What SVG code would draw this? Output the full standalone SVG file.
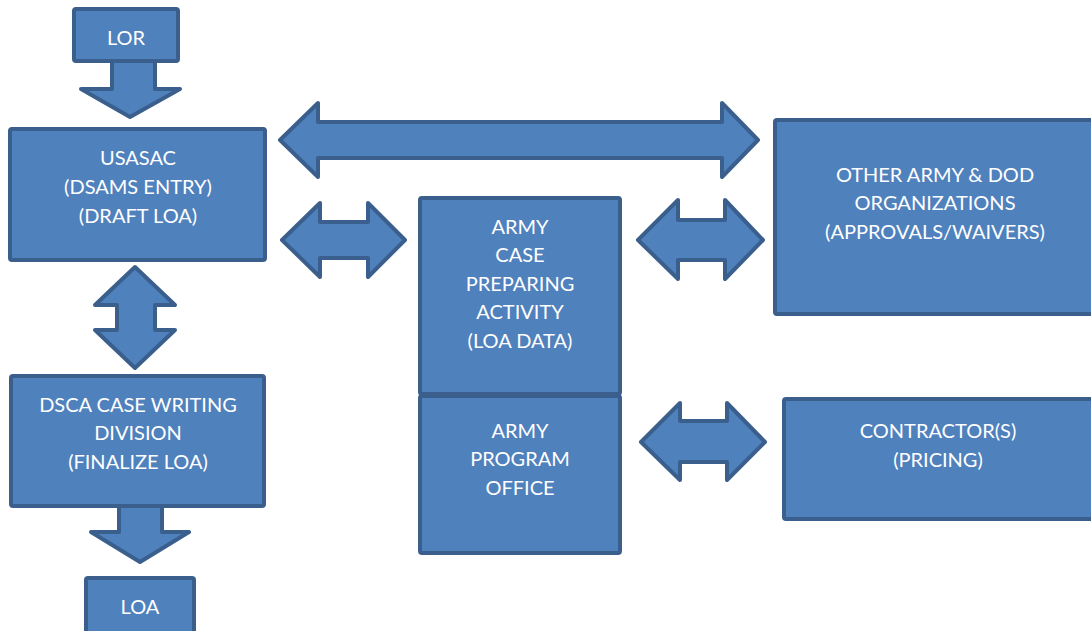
<svg xmlns="http://www.w3.org/2000/svg" width="1091" height="631" viewBox="0 0 1091 631">
<style>
.b{fill:#4f81bd;stroke:#3a5f8d;stroke-width:4;stroke-linejoin:round}
.t{fill:#ffffff;font-family:Lato,"Liberation Sans",sans-serif;font-size:20px;text-anchor:middle}
</style>
<rect width="1091" height="631" fill="#ffffff"/>
<g id="connectors">
<path class="b" d="M112,62 V89 H81 L130,117 L180,89 H155 V62"/>
<path class="b" d="M280,140 L318,103 V122 H722 V103 L758,140 L722,177 V158 H318 V177 Z"/>
<path class="b" d="M282,240 L320,203 V222 H368 V203 L405,240 L368,277 V258 H320 V277 Z"/>
<path class="b" d="M638,240 L678,200 V220 H725 V200 L763,240 L725,279 V260 H678 V279 Z"/>
<path class="b" d="M641,442 L680,403 V421 H727 V403 L765,442 L727,480 V462 H680 V480 Z"/>
<path class="b" d="M135,267 L175,305 H155 V330 H175 L135,368 L95,330 H117 V305 H95 Z"/>
<path class="b" d="M119,507 V532 H91 L140,562 L189,532 H162 V507"/>
</g>
<g id="lor"><rect class="b" x="74" y="9" width="104" height="52" rx="2"/><text class="t" x="126" y="45">LOR</text></g>
<g id="usasac"><rect class="b" x="10" y="129" width="255" height="131" rx="2"/>
<text class="t" x="138" y="165">USASAC</text><text class="t" x="138" y="194">(DSAMS ENTRY)</text><text class="t" x="138" y="223">(DRAFT LOA)</text></g>
<g id="dsca"><rect class="b" x="11" y="376" width="253" height="130" rx="2"/>
<text class="t" x="138" y="412">DSCA CASE WRITING</text><text class="t" x="138" y="440">DIVISION</text><text class="t" x="138" y="469">(FINALIZE LOA)</text></g>
<g id="loa"><rect class="b" x="86" y="578" width="108" height="60" rx="2"/><text class="t" x="140" y="614">LOA</text></g>
<g id="case"><rect class="b" x="420" y="198" width="200" height="196" rx="2"/>
<text class="t" x="520" y="234">ARMY</text><text class="t" x="520" y="262">CASE</text><text class="t" x="520" y="291">PREPARING</text><text class="t" x="520" y="319">ACTIVITY</text><text class="t" x="520" y="348">(LOA DATA)</text></g>
<g id="program"><rect class="b" x="420" y="396" width="200" height="157" rx="2"/>
<text class="t" x="520" y="438">ARMY</text><text class="t" x="520" y="466">PROGRAM</text><text class="t" x="520" y="495">OFFICE</text></g>
<g id="other"><rect class="b" x="775" y="120" width="330" height="194" rx="2"/>
<text class="t" x="935" y="182">OTHER ARMY &amp; DOD</text><text class="t" x="935" y="210">ORGANIZATIONS</text><text class="t" x="935" y="239">(APPROVALS/WAIVERS)</text></g>
<g id="contractor"><rect class="b" x="784" y="399" width="320" height="120" rx="2"/>
<text class="t" x="938" y="438">CONTRACTOR(S)</text><text class="t" x="938" y="467">(PRICING)</text></g>
</svg>
